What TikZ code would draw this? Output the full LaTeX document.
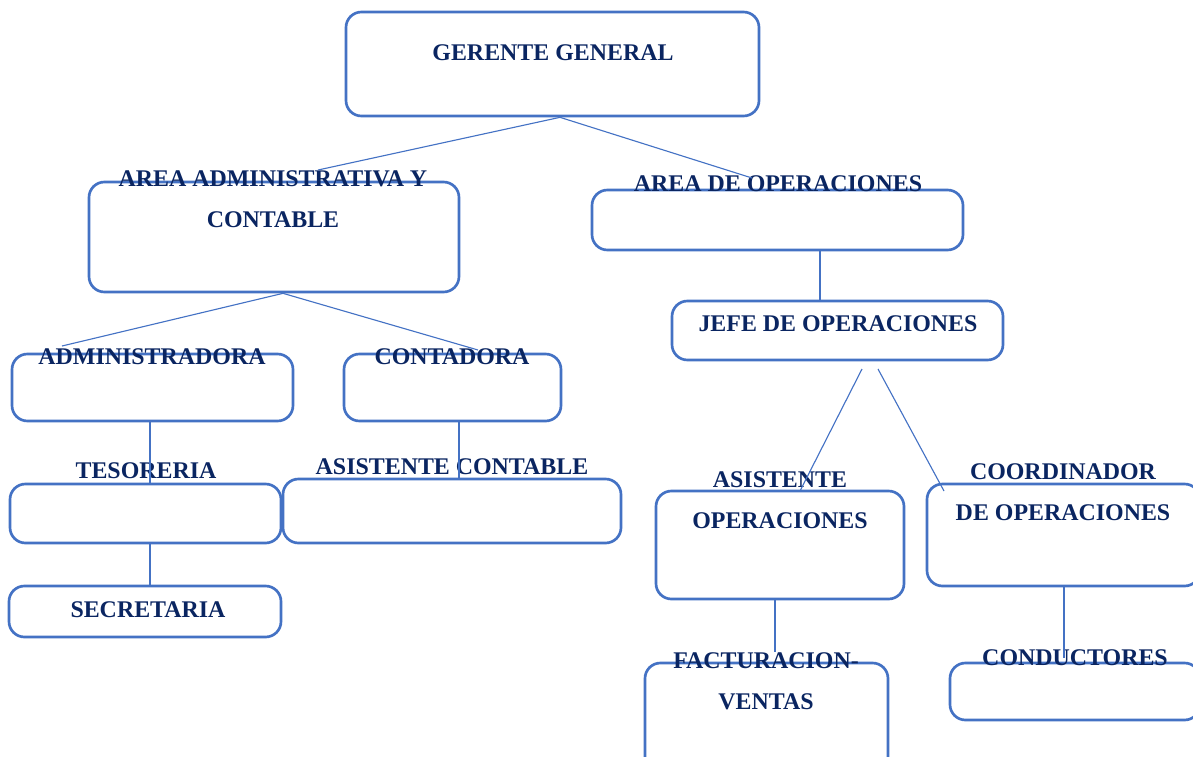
\documentclass[tikz,border=0pt]{standalone}
\usepackage{fontspec}
\setmainfont{Liberation Serif}
\usepackage{xcolor}
\usetikzlibrary{fit}
\definecolor{boxblue}{HTML}{4472C4}
\definecolor{txtblue}{HTML}{0A2561}

\begin{document}
\begin{tikzpicture}[x=0.025cm, y=-0.025cm,
    box/.style={draw=boxblue, line width=1.9pt, rounded corners=11pt, inner sep=0pt},
    lbl/.style={text=txtblue, font=\bfseries\fontsize{17}{29}\selectfont, align=center, inner sep=0pt},
    link/.style={draw=boxblue, line width=0.8pt}]
      \useasboundingbox (0,0) rectangle (1193,757);
      \clip (0,0) rectangle (1193,757);

      % boxes
      \node[box, fit={(346,12) (759,116)}] (ger) {};
      \node[box, fit={(89,182) (459,292)}] (adm) {};
      \node[box, fit={(592,190) (963,250)}] (ope) {};
      \node[box, fit={(672,301) (1003,360)}] (jef) {};
      \node[box, fit={(12,354) (293,421)}] (adr) {};
      \node[box, fit={(344,354) (561,421)}] (con) {};
      \node[box, fit={(10,484) (281,543)}] (tes) {};
      \node[box, fit={(283,479) (621,543)}] (asc) {};
      \node[box, fit={(9,586) (281,637)}] (sec) {};
      \node[box, fit={(656,491) (904,599)}] (aso) {};
      \node[box, fit={(927,484) (1200,586)}] (coo) {};
      \node[box, fit={(645,663) (888,780)}] (fac) {};
      \node[box, fit={(950,663) (1200,720)}] (cnd) {};

      % labels
      \node[lbl] (tger) at (553,53) {GERENTE GENERAL};
      \node[lbl] (tadm) at (273,199) {AREA ADMINISTRATIVA Y\\CONTABLE};
      \node[lbl] (tope) at (778,184) {AREA DE OPERACIONES};
      \node[lbl] (tjef) at (838,324) {JEFE DE OPERACIONES};
      \node[lbl] (tadr) at (152,357) {ADMINISTRADORA};
      \node[lbl] (tcon) at (452,357) {CONTADORA};
      \node[lbl] (ttes) at (146,471) {TESORERIA};
      \node[lbl] (tasc) at (452,467) {ASISTENTE CONTABLE};
      \node[lbl] (tsec) at (148,610) {SECRETARIA};
      \node[lbl] (taso) at (780,500) {ASISTENTE\\OPERACIONES};
      \node[lbl] (tcoo) at (1063,492) {COORDINADOR\\DE OPERACIONES};
      \node[lbl] (tfac) at (766,681) {FACTURACION-\\VENTAS};
      \node[lbl] (tcnd) at (1075,658) {CONDUCTORES};

      % free ends
      \coordinate (e1) at (318,170);
      \coordinate (e2) at (752,178);
      \coordinate (e3) at (62,346);
      \coordinate (e4) at (478,350);
      \coordinate (j1) at (862,369);
      \coordinate (j2) at (878,369);
      \coordinate (e5) at (800,491);
      \coordinate (e6) at (944,491);

      \draw[link] (e1) -- (ger.south -| 560,0) -- (e2);
      \draw[link] (e3) -- (adm.south -| 283,0) -- (e4);
      \draw[link] (ope.south -| 820,0) -- (jef.north -| 820,0);
      \draw[link] (j1) -- (e5);
      \draw[link] (j2) -- (e6);
      \draw[link] (adr.south -| 150,0) -- (tes.north -| 150,0);
      \draw[link] (tes.south -| 150,0) -- (sec.north -| 150,0);
      \draw[link] (con.south -| 459,0) -- (asc.north -| 459,0);
      \draw[link] (aso.south -| 775,0) -- (tfac.north -| 775,0);
      \draw[link] (coo.south -| 1064,0) -- (tcnd.center -| 1064,0);
    \end{tikzpicture}
\end{document}
